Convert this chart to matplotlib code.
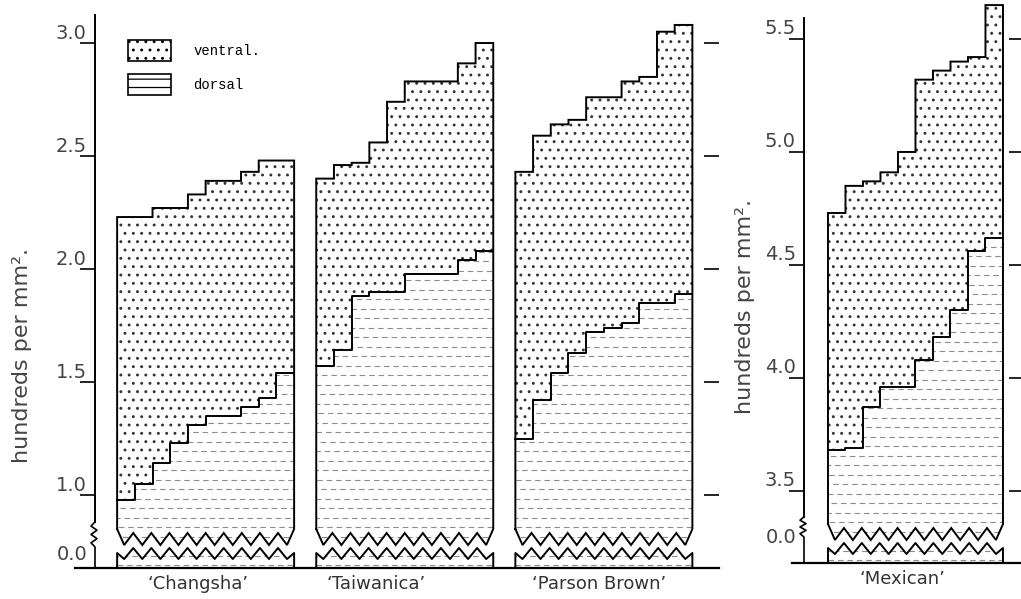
import numpy as np
import matplotlib
matplotlib.use("Agg")
import matplotlib.pyplot as plt
from matplotlib.patches import Polygon, Patch
from matplotlib import transforms

# stomata density, hundreds per mm2, 10 leaves per cultivar (sorted)
changsha_dorsal = [0.98, 1.05, 1.14, 1.23, 1.31, 1.35, 1.35, 1.39, 1.43, 1.54]
changsha_total = [2.23, 2.23, 2.27, 2.27, 2.33, 2.39, 2.39, 2.43, 2.48, 2.48]
taiwanica_dorsal = [1.57, 1.64, 1.88, 1.90, 1.90, 1.98, 1.98, 1.98, 2.04, 2.08]
taiwanica_total = [2.40, 2.46, 2.47, 2.56, 2.74, 2.83, 2.83, 2.83, 2.91, 3.00]
parson_dorsal = [1.25, 1.42, 1.54, 1.63, 1.72, 1.74, 1.76, 1.85, 1.85, 1.89]
parson_total = [2.43, 2.59, 2.64, 2.66, 2.76, 2.76, 2.83, 2.85, 3.05, 3.08]
mexican_dorsal = [3.68, 3.69, 3.87, 3.96, 3.96, 4.08, 4.18, 4.30, 4.56, 4.62]
mexican_total = [4.73, 4.85, 4.87, 4.91, 5.00, 5.32, 5.36, 5.40, 5.42, 5.65]

left_names = ["‘Changsha’", "‘Taiwanica’", "‘Parson Brown’"]
right_name = "‘Mexican’"
left_ticks = [1.0, 1.5, 2.0, 2.5, 3.0]
left_ticklabels = ["1.0", "1.5", "2.0", "2.5", "3.0"]
right_ticks = [3.5, 4.0, 4.5, 5.0, 5.5]
right_ticklabels = ["3.5", "4.0", "4.5", "5.0", "5.5"]

PX = 1 / 226.0  # value units per pixel on both panels
DPI = 100

plt.rcParams["font.family"] = ["DejaVu Sans"]
plt.rcParams["hatch.color"] = "#333333"
plt.rcParams["hatch.linewidth"] = 0.9

fig = plt.figure(figsize=(10.21, 5.99), dpi=DPI)
W, H = 1021.0, 599.0


def step_xy(edges, vals):
    xs = np.repeat(edges, 2)[1:-1]
    ys = np.repeat(vals, 2)
    return xs, ys


def draw_bar(ax, x0, dorsal, total, base):
    n = len(dorsal)
    edges = x0 + np.arange(n + 1)
    x1 = edges[-1]
    k = np.arange(19)
    zx = np.linspace(x0 + 0.4, x1 - 0.4, 19)
    # two parallel zigzags = the break in the bars
    zy_up = base + np.where(k % 2 == 0, 23, 35) * PX
    zy_lo = base + np.where(k % 2 == 0, 9, 20) * PX
    side_up = base + 39 * PX
    side_lo = base + 15 * PX
    dx, dy = step_xy(edges, dorsal)
    tx, ty = step_xy(edges, total)

    up = Polygon([(x0, side_up)] + list(zip(zx, zy_up)) + [(x1, side_up)]
                 + list(zip(dx[::-1], dy[::-1])),
                 closed=True, facecolor="white", edgecolor="none", zorder=1)
    lo = Polygon([(x0, base), (x0, side_lo)] + list(zip(zx, zy_lo))
                 + [(x1, side_lo), (x1, base)],
                 closed=True, facecolor="white", edgecolor="none", zorder=1)
    ax.add_patch(up)
    ax.add_patch(lo)

    # dashed texture for the dorsal part
    for patch, y0, y1 in [(up, base + 22 * PX, max(dorsal)), (lo, base + 3 * PX, base + 22 * PX)]:
        ys = np.arange(y0, y1, 0.042)
        styles = [((i * 3.7) % 9, (5, 3.5)) for i in range(len(ys))]
        lines = ax.hlines(ys, x0, x1, colors="#8c8c8c", linewidth=0.8,
                          linestyles=styles, zorder=2)
        lines.set_clip_path(patch)

    # stippled ventral part
    ax.stairs(total, edges, baseline=dorsal, fill=True, facecolor="white",
              hatch="..", linewidth=0, zorder=2)

    # outlines
    ox = [x0] + list(tx) + [x1] + list(zx[::-1]) + [x0]
    oy = [side_up] + list(ty) + [side_up] + list(zy_up[::-1]) + [side_up]
    ax.plot(ox, oy, color="black", lw=1.4, zorder=4, solid_joinstyle="miter")
    ax.plot(dx, dy, color="black", lw=1.4, zorder=4)
    lx = [x0, x0] + list(zx) + [x1, x1]
    ly = [base, side_lo] + list(zy_lo) + [side_lo, base]
    ax.plot(lx, ly, color="black", lw=1.4, zorder=4)


def style_axis(ax, ylow, ytop, brk_hi, brk_lo, ticks, ticklabels, base_left_px, px_w):
    for s in ["top", "right", "bottom"]:
        ax.spines[s].set_visible(False)
    ax.spines["left"].set_bounds(brk_hi, ytop)
    ax.spines["left"].set_linewidth(1.4)
    ax.set_yticks(ticks, ticklabels)
    ax.tick_params(axis="y", direction="out", length=11, width=1.2, pad=0,
                   labelsize=14, labelcolor="#444444")
    ax.tick_params(axis="x", length=0, pad=5, labelsize=13, labelcolor="#333333")
    # broken axis mark
    ux = 1.0 / px_w
    bys = np.linspace(brk_hi, brk_lo, 7)
    bxs = np.array([0, -4, 2, -4, 2, -4, 0]) * ux
    ax.plot(list(bxs) + [0, 0], list(bys) + [brk_lo, ylow], color="black",
            lw=1.2, clip_on=False, zorder=5)
    ax.axhline(ylow, xmin=-base_left_px / (ax.get_xlim()[1] * px_w), xmax=1,
               color="black", lw=1.6, clip_on=False, zorder=5)
    # right-hand ticks
    axr = ax.twinx()
    axr.set_ylim(ax.get_ylim())
    axr.set_yticks(ticks)
    axr.tick_params(axis="y", direction="in", length=11, width=1.2, labelright=False)
    for s in axr.spines.values():
        s.set_visible(False)
    off = transforms.ScaledTranslation(7 / DPI, 12 / DPI, fig.dpi_scale_trans)
    for lab in ax.get_yticklabels():
        lab.set_transform(lab.get_transform() + off)


# left panel: spine at x=95 px, baseline at y=568 px
u1 = 17.7
ax1 = fig.add_axes([95 / W, (H - 568) / H, 624 / W, 553 / H])
ax1.set_xlim(0, 624 / u1)
ylow1, ytop1 = 0.677, 3.124
ax1.set_ylim(ylow1, ytop1)
starts = [1.25, 12.5, 23.75]
for x0, d, t in zip(starts, [changsha_dorsal, taiwanica_dorsal, parson_dorsal],
                    [changsha_total, taiwanica_total, parson_total]):
    draw_bar(ax1, x0, d, t, ylow1)
ax1.set_xticks([5.8, 15.9, 28.5], left_names)
style_axis(ax1, ylow1, ytop1, 0.881, 0.770, left_ticks, left_ticklabels, 20, u1)
ax1.text(-8 / 624, 0.735, "0.0", transform=transforms.blended_transform_factory(ax1.transAxes, ax1.transData),
         ha="right", va="center", fontsize=14, color="#444444")
ax1.set_ylabel("hundreds per mm².", fontsize=16, color="#444444")
ax1.yaxis.set_label_coords(-0.101, 0.385)

# right panel: spine at x=804 px, baseline at y=563 px
u2 = 17.5
ylow2, ytop2 = 3.181, 5.68
top_px = 39 - (ytop2 - 5.5) / PX
ax2 = fig.add_axes([804 / W, (H - 563) / H, 220 / W, (563 - top_px) / H])
ax2.set_xlim(0, 220 / u2)
ax2.set_ylim(ylow2, ytop2)
draw_bar(ax2, 1.37, mexican_dorsal, mexican_total, ylow2)
ax2.set_xticks([5.6], [right_name])
style_axis(ax2, ylow2, 5.593, 3.385, 3.296, right_ticks, right_ticklabels, 12, u2)
ax2.text(-8 / 220, 3.292, "0.0", transform=transforms.blended_transform_factory(ax2.transAxes, ax2.transData),
         ha="right", va="center", fontsize=14, color="#444444")
ax2.set_ylabel("hundreds per mm².", fontsize=16, color="#444444")
ax2.yaxis.set_label_coords(-0.223, (563 - 306) / (563 - top_px))

handles = [Patch(facecolor="white", edgecolor="black", hatch="..", lw=1.2),
           Patch(facecolor="white", edgecolor="black", hatch="--", lw=1.2)]
fig.legend(handles, ["ventral.", "dorsal"], loc="upper left",
           bbox_to_anchor=(128 / W, 1 - 40 / H), frameon=False,
           prop={"family": "Liberation Mono", "size": 10},
           handlelength=3.1, handleheight=2.0, labelspacing=0.9,
           handletextpad=1.6, borderpad=0, borderaxespad=0)

fig.savefig("out.png", dpi=DPI)
